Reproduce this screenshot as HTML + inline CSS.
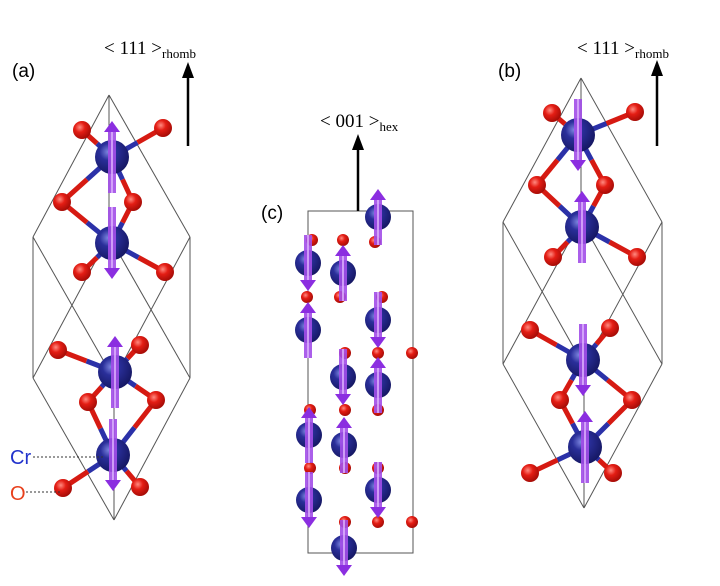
<!DOCTYPE html>
<html><head><meta charset="utf-8"><style>
html,body{margin:0;padding:0;background:#fff;}
svg{display:block}
text{font-family:"Liberation Sans",sans-serif}
.serif{font-family:"Liberation Serif",serif}
</style></head><body>
<svg id="s" width="720" height="586" viewBox="0 0 720 586" xmlns="http://www.w3.org/2000/svg">
<defs>
<radialGradient id="cr" cx="0.38" cy="0.35" r="0.7"><stop offset="0" stop-color="#7d86e0"/><stop offset="0.35" stop-color="#2a2f9a"/><stop offset="1" stop-color="#141660"/></radialGradient>
<radialGradient id="ox" cx="0.38" cy="0.35" r="0.7"><stop offset="0" stop-color="#ff8a80"/><stop offset="0.4" stop-color="#e41d14"/><stop offset="1" stop-color="#a00a05"/></radialGradient>
</defs>
<g id="cells" fill="none" stroke="#555" stroke-width="1"></g>
<g id="bonds"></g>
<g id="atoms"></g>
<g id="labels">
<text x="12" y="77" font-size="19">(a)</text>
<text x="498" y="77" font-size="19">(b)</text>
<text x="261" y="219" font-size="19">(c)</text>
<text class="serif" x="104" y="54" font-size="19">&lt; 111 &gt;<tspan font-size="13" dy="4">rhomb</tspan></text>
<text class="serif" x="577" y="54" font-size="19">&lt; 111 &gt;<tspan font-size="13" dy="4">rhomb</tspan></text>
<text class="serif" x="320" y="127" font-size="19">&lt; 001 &gt;<tspan font-size="13" dy="4">hex</tspan></text>
<line x1="188" y1="146" x2="188" y2="76" stroke="#000" stroke-width="2.5"/><polygon points="182,78 194,78 188,62" fill="#000"/>
<line x1="657" y1="146" x2="657" y2="74" stroke="#000" stroke-width="2.5"/><polygon points="651,76 663,76 657,60" fill="#000"/>
<line x1="358" y1="211" x2="358" y2="148" stroke="#000" stroke-width="2.5"/><polygon points="352,150 364,150 358,134" fill="#000"/>
<text x="10" y="464" font-size="20" fill="#2233cc">Cr</text>
<text x="10" y="500" font-size="20" fill="#e8401c">O</text>
<line x1="33" y1="457" x2="105" y2="457" stroke="#333" stroke-dasharray="2,2"/>
<line x1="26" y1="492" x2="60" y2="492" stroke="#333" stroke-dasharray="2,2"/>
</g>
</svg>
<script>
const NS="http://www.w3.org/2000/svg";
function el(p,t,a){const e=document.createElementNS(NS,t);for(const k in a)e.setAttribute(k,a[k]);document.getElementById(p).appendChild(e);return e;}
function rhomb(T,a,b,c){
 const add=(...v)=>v.reduce((s,x)=>[s[0]+x[0],s[1]+x[1]],[0,0]);
 const U=[add(T,a),add(T,b),add(T,c)],L={ab:add(T,a,b),ac:add(T,a,c),bc:add(T,b,c)},B=add(T,a,b,c);
 const ln=(p,q)=>el("cells","line",{x1:p[0],y1:p[1],x2:q[0],y2:q[1]});
 U.forEach(u=>ln(T,u));Object.values(L).forEach(l=>ln(l,B));
 ln(U[0],L.ab);ln(U[0],L.ac);ln(U[1],L.ab);ln(U[1],L.bc);ln(U[2],L.ac);ln(U[2],L.bc);
}
rhomb([109,95],[-76,142],[81,142],[0,141]);
rhomb([581,78],[-78,144],[81,144],[0,142]);
el("cells","rect",{x:308,y:211,width:105,height:342});
function bond(p,q){
 const m=[(p[0]+q[0])/2,(p[1]+q[1])/2];
 el("bonds","line",{x1:p[0],y1:p[1],x2:m[0],y2:m[1],stroke:"#2b31a8","stroke-width":5});
 el("bonds","line",{x1:m[0],y1:m[1],x2:q[0],y2:q[1],stroke:"#d61a12","stroke-width":5});
}
function O(x,y,r=8){el("atoms","circle",{cx:x,cy:y,r:r,fill:"url(#ox)"});}
function Cr(x,y,up,r=14,len=34){
 el("atoms","circle",{cx:x,cy:y,r:r,fill:"url(#cr)"});
 const s=up?-1:1, tip=y+s*len, base=y-s*len;
 el("atoms","rect",{x:x-4,y:Math.min(base,tip-s*10), width:8,height:Math.abs(tip-s*10-base),fill:"#a24ee8",opacity:0.9});
 el("atoms","line",{x1:x,y1:base,x2:x,y2:tip-s*10,stroke:"#e0b8ff","stroke-width":1.5});
 el("atoms","polygon",{points:`${x-8},${tip-s*11} ${x+8},${tip-s*11} ${x},${tip}`,fill:"#8b2ee0"});
}
const aCr=[[112,157,1],[112,243,0],[115,372,1],[113,455,0]];
const aO=[[82,130],[163,128],[62,202],[133,202],[82,272],[165,272],[58,350],[140,345],[88,402],[156,400],[63,488],[140,487]];
const aB=[[0,0],[0,1],[0,2],[0,3],[1,2],[1,3],[1,4],[1,5],[2,6],[2,7],[2,8],[2,9],[3,8],[3,9],[3,10],[3,11]];
const bCr=[[578,135,0],[582,227,1],[583,360,0],[585,447,1]];
const bO=[[552,113],[635,112],[537,185],[605,185],[553,257],[637,257],[530,330],[610,328],[560,400],[632,400],[530,473],[613,473]];
[[aCr,aO],[bCr,bO]].forEach(([C,Os])=>{aB.forEach(([i,j])=>bond(C[i],Os[j]));});
[[aCr,aO],[bCr,bO]].forEach(([C,Os])=>{Os.forEach(o=>O(o[0],o[1],9));C.forEach(c=>Cr(c[0],c[1],c[2],17,36));});
const cO=[[312,240],[343,240],[375,242],[307,297],[340,297],[382,297],[345,353],[378,353],[412,353],[310,410],[345,410],[378,410],[310,468],[345,468],[378,468],[345,522],[378,522],[412,522]];
cO.forEach(o=>O(o[0],o[1],6));
const cCr=[[308,263,0],[343,273,1],[378,217,1],[308,330,1],[378,320,0],[343,377,0],[378,385,1],[309,435,1],[344,445,1],[309,500,0],[378,490,0],[344,548,0]];
cCr.forEach(c=>Cr(c[0],c[1],c[2],13,28));
</script>
</body></html>
